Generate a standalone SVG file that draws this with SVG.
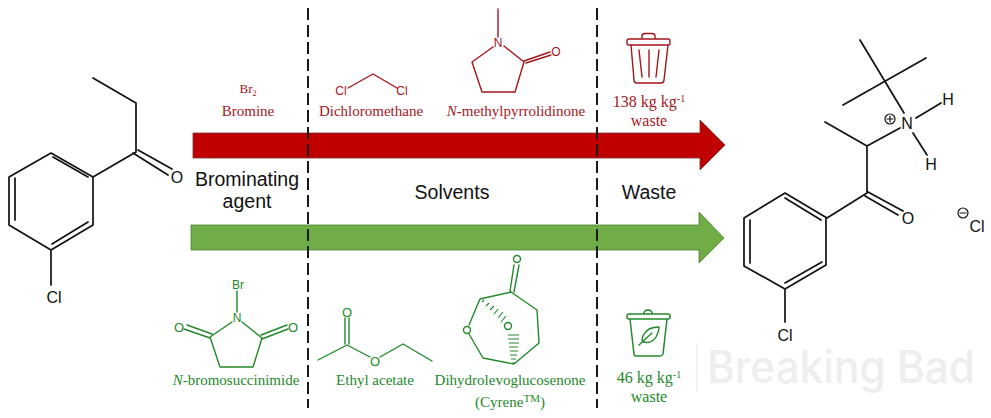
<svg xmlns="http://www.w3.org/2000/svg" width="991" height="418" viewBox="0 0 991 418">
<style>
.k{fill:none;stroke:#111;stroke-width:1.7;stroke-linecap:round;stroke-linejoin:round}
.r{fill:none;stroke:#A5161C;stroke-width:1.4;stroke-linecap:round;stroke-linejoin:round}
.g{fill:none;stroke:#23892B;stroke-width:1.4;stroke-linecap:round;stroke-linejoin:round}
.h{fill:none;stroke:#23892B;stroke-width:1.1}
text{text-anchor:middle}
.a{font-family:"Liberation Sans",Arial,sans-serif;fill:#111}
.at{font-size:16px}
.lab{font-size:19.500px}
.rs{font-family:"Liberation Sans",Arial,sans-serif;font-size:12px;fill:#A5161C}
.gs{font-family:"Liberation Sans",Arial,sans-serif;font-size:12px;fill:#23892B}
.rt{font-family:"Liberation Serif","Times New Roman",serif;font-size:15px;fill:#A5161C}
.gt{font-family:"Liberation Serif","Times New Roman",serif;font-size:15px;fill:#23892B}
.big{font-size:16px}
.dash{stroke:#1a1a1a;stroke-width:2;stroke-dasharray:12 5;fill:none}
</style>
<g id="connectors">
<path d="M193 133H700V120L725 145L700 170V158H193Z" fill="#C00000" stroke="#7a3030" stroke-width=".8"/>
<path d="M191 225H699V212L724 238L699 263V250H191Z" fill="#70AD47" stroke="#4f7d33" stroke-width=".8"/>
<path class="dash" d="M308 8V408"/>
<path class="dash" d="M597 8V408"/>
</g>
<g id="reactant">
<path class="k" d="M93 78L136 103V152M133 153L168 175M138 150L172 169M136 152L93 177L51 153L9 177V225L51 250L93 225V177M53 157L88 177M15 178V220M52 244L88 222M51 250V285"/>
<text class="a at" x="177" y="183">O</text>
<text class="a at" x="54" y="303">Cl</text>
</g>
<g id="product">
<path class="k" d="M860 40L904 113M926 58L843 105M916 118L941 103M913 133L927 155M900 128L867 146L825 122M867 146V193M865 196L898 215M868 192L903 211M867 193L827 218L785 193L744 218V266L785 289L826 265V218M785 198L821 220M750 220V263M785 283L822 262M785 289V322"/>
<circle class="k" style="stroke-width:1.2" cx="890" cy="119" r="5"/>
<path class="k" style="stroke-width:1.2" d="M887 119H893M890 116V122"/>
<circle class="k" style="stroke-width:1.2" cx="963" cy="213" r="5"/>
<path class="k" style="stroke-width:1.2" d="M960 213H966"/>
<text class="a at" x="907" y="129">N</text>
<text class="a at" x="948" y="105">H</text>
<text class="a at" x="931" y="170">H</text>
<text class="a at" x="908" y="224">O</text>
<text class="a at" x="785" y="341">Cl</text>
<text class="a at" x="977" y="232">Cl</text>
</g>
<g id="labels">
<text class="a lab" x="247" y="186">Brominating</text>
<text class="a lab" x="247" y="208">agent</text>
<text class="a lab" x="452" y="199">Solvents</text>
<text class="a lab" x="649" y="199">Waste</text>
</g>
<g id="bromine">
<text class="rt" style="font-size:13px" x="248" y="93">Br<tspan dy="3" font-size="8">2</tspan></text>
<text class="rt" x="248" y="116">Bromine</text>
</g>
<g id="dichloromethane">
<path class="r" d="M348 88L373 74L397 88"/>
<text class="rs" x="341" y="95">Cl</text>
<text class="rs" x="402" y="95">Cl</text>
<text class="rt" x="371" y="116">Dichloromethane</text>
</g>
<g id="nmp">
<path class="r" d="M498 9V37M493 47L472 62L482 92H515L524 62L504 46M524 61L550 52M526 63L551 55"/>
<text class="rs" x="498" y="47">N</text>
<text class="rs" x="556" y="56">O</text>
<text class="rt" x="516" y="116"><tspan font-style="italic">N</tspan>-methylpyrrolidinone</text>
</g>
<g id="waste-red">
<path class="r" d="M642 39V36Q642 33.500 645 33.500H652Q655 33.500 655 36V39M629 39H668Q670 39 670 41V43Q670 45 668 45H629Q627 45 627 43V41Q627 39 629 39ZM631 45L634 80Q634 83 637 83H661Q664 83 664 80L668 45M639 50L642 77M649 50V77M659 50L656 77"/>
<text class="rt big" x="649" y="107">138 kg kg<tspan dy="-5" font-size="10">-1</tspan></text>
<text class="rt big" x="649" y="126">waste</text>
</g>
<g id="nbs">
<path class="g" d="M237 291V312M232 322L210 337L220 367H253L262 338L242 322M210 338L184 329M212 334L187 325M262 339L288 329M261 335L287 325"/>
<text class="gs" x="238" y="289">Br</text>
<text class="gs" x="237" y="322">N</text>
<text class="gs" style="font-size:13px" x="179" y="332">O</text>
<text class="gs" style="font-size:13px" x="293" y="332">O</text>
<text class="gt" x="236" y="385"><tspan font-style="italic">N</tspan>-bromosuccinimide</text>
</g>
<g id="ethyl-acetate">
<path class="g" d="M318 360L347 345L370 357M380 357L403 344L432 361M345 344V318M349 344V318"/>
<text class="gs" style="font-size:13px" x="347" y="317">O</text>
<text class="gs" style="font-size:13px" x="375" y="366">O</text>
<text class="gt" x="375" y="385">Ethyl acetate</text>
</g>
<g id="cyrene">
<path class="g" d="M510 291L514 265M514 292L519 265M480 299L511 292L537 310L539 343L514 364L483 358L469 334M469 325L480 299"/>
<path class="h" d="M482 302L484 300M486 306L489 303M490 310L494 306M494 314L498 309M498 318L503 312M501 322L506 316"/>
<path class="h" d="M512 363H515M511 359H516M510 355H517M510 351H518M509 347H518M509 343H519M508 339H519M508 335H519"/>
<circle class="g" cx="517" cy="259" r="3.500"/>
<circle class="g" cx="467" cy="330" r="3.500"/>
<circle class="g" cx="508" cy="326" r="3.500"/>
<text class="gt" x="510" y="385">Dihydrolevoglucosenone</text>
<text class="gt" x="510" y="407">(Cyrene<tspan dy="-5" font-size="11">TM</tspan><tspan dy="5">)</tspan></text>
</g>
<g id="waste-green">
<path class="g" style="stroke-width:1.5" d="M644 314Q644 310 648 310Q652 310 652 314M629 314H668Q670 314 670 316V317Q670 319 668 319H629Q627 319 627 317V316Q627 314 629 314ZM630 319L634 354Q634 356 636 356H660Q662 356 663 354L667 319"/>
<path class="g" d="M659 327Q648 327 644 334Q641 339 643 342Q652 344 656 337Q659 331 659 327ZM639 345L652 333"/>
<text class="gt big" x="649" y="383">46 kg kg<tspan dy="-5" font-size="10">-1</tspan></text>
<text class="gt big" x="649" y="402">waste</text>
</g>
<g id="watermark">
<path d="M697 343V392" stroke="#eee" stroke-width="1.5" fill="none"/>
<text x="841" y="383" font-family="Inter,'Liberation Sans',sans-serif" font-size="45" font-weight="500" fill="#eeeeee" textLength="268" lengthAdjust="spacingAndGlyphs">Breaking Bad</text>
</g>
</svg>
